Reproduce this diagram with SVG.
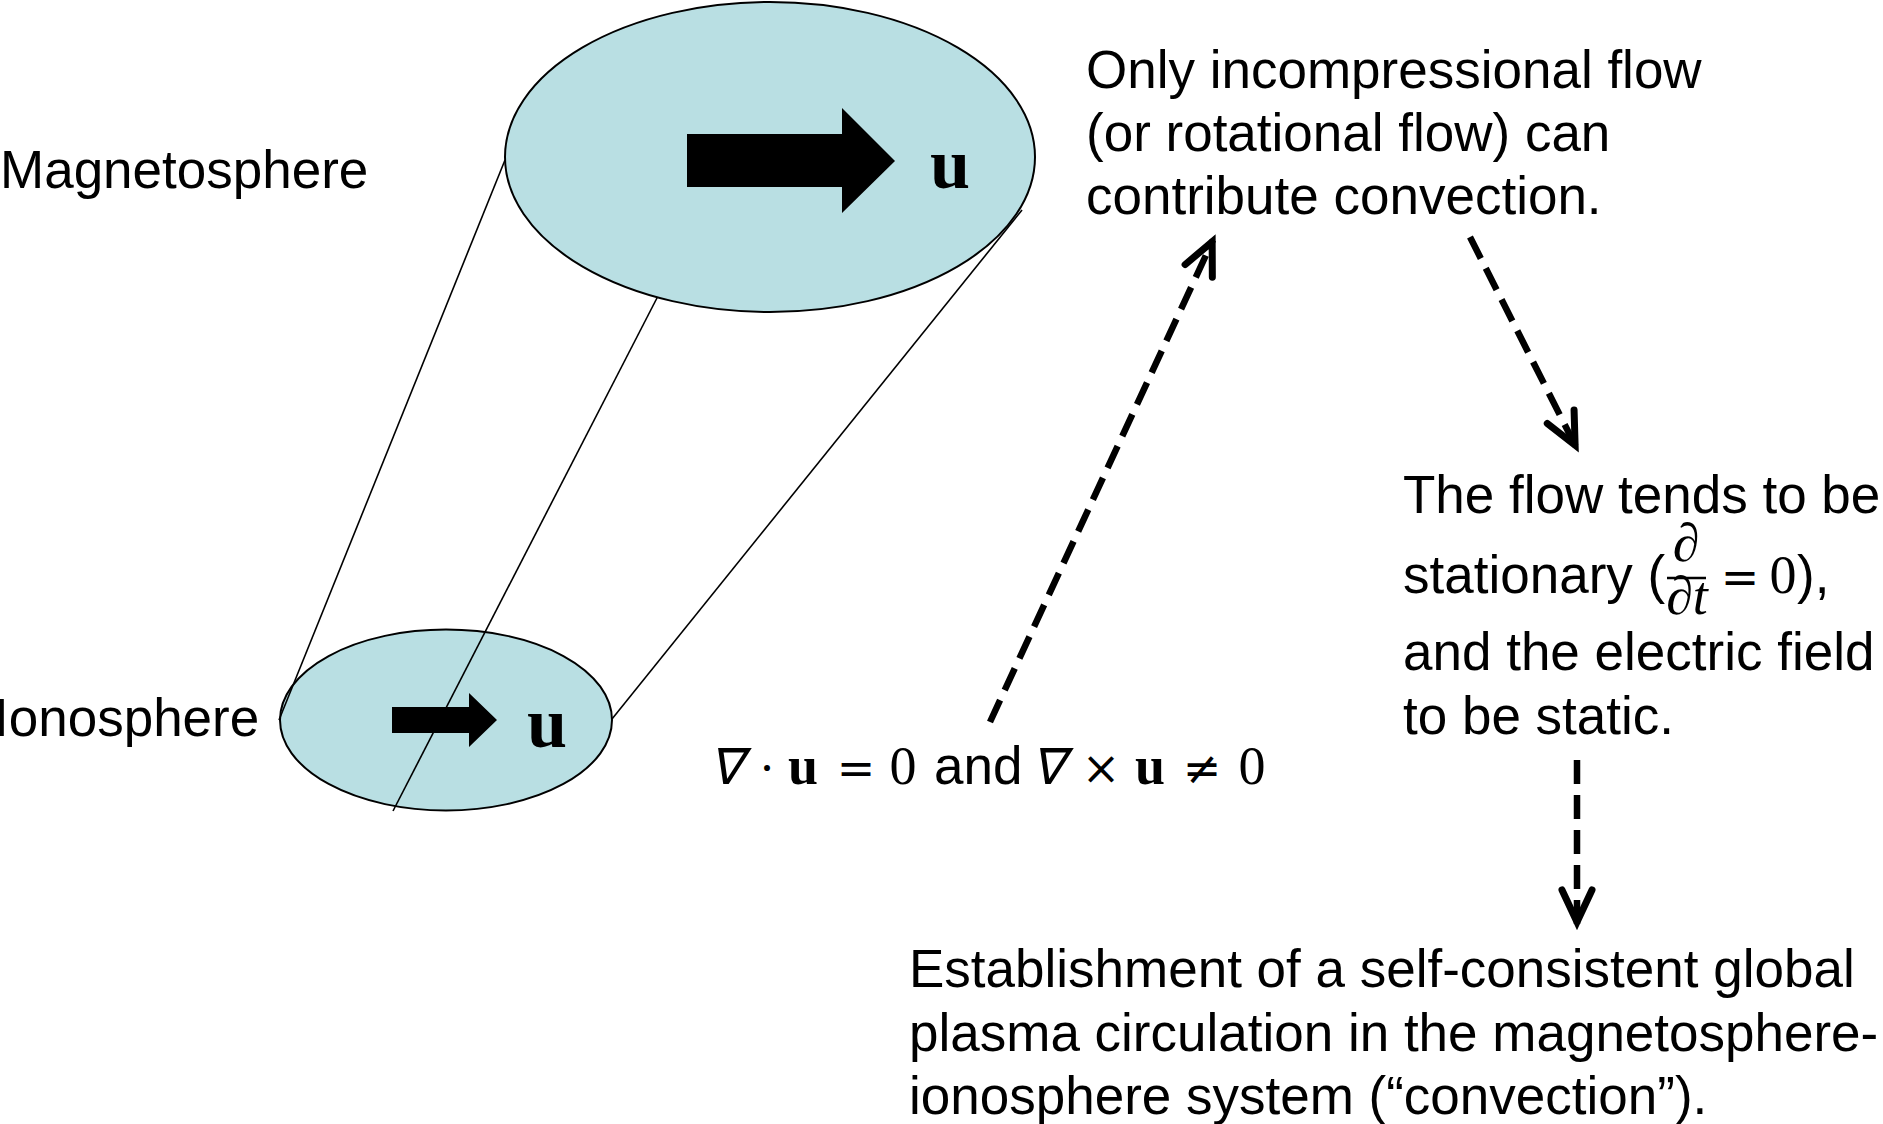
<svg xmlns="http://www.w3.org/2000/svg" width="1883" height="1124" viewBox="0 0 1883 1124">
  <defs>
    <style>
      .lbl { font-family: "Liberation Sans", Arial, sans-serif; font-size: 53px; fill: #000; }
      .mth { font-family: "Liberation Serif", "DejaVu Serif", serif; font-size: 54px; fill: #000; }
      .sym { font-family: "DejaVu Serif", "Liberation Serif", serif; font-size: 46px; fill: #000; }
      .nab { font-family: "DejaVu Sans", "DejaVu Serif", sans-serif; font-size: 50px; font-weight: normal; fill: #000; }
      .bu { font-family: "Liberation Serif", "Times New Roman", serif; font-weight: bold; font-size: 72px; fill: #000; }
      .sph { fill: #B9DFE3; stroke: #000; stroke-width: 2; }
      .edge { stroke: #000; stroke-width: 1.6; fill: none; }
      .flow { fill: #000; }
      .dash { stroke: #000; stroke-width: 6.5; fill: none; stroke-dasharray: 24 11; marker-end: url(#ah); }
    </style>
    <marker id="ah" markerUnits="userSpaceOnUse" orient="auto" refX="0" refY="0" markerWidth="80" markerHeight="80" viewBox="-50 -40 80 80" overflow="visible">
      <path d="M-34,-15 L-2,0 L-34,15" fill="none" stroke="#000" stroke-width="7" stroke-linecap="round" stroke-linejoin="miter"/>
    </marker>
  </defs>

  <g id="ionosphere">
    <ellipse class="sph" cx="446" cy="720" rx="166" ry="90.5"/>
  </g>

  <g id="connectors">
    <line class="edge" x1="505" y1="160" x2="279" y2="720"/>
    <line class="edge" x1="658" y1="296" x2="393" y2="811"/>
    <line class="edge" x1="1022" y1="210" x2="612" y2="719"/>
  </g>

  <g id="magnetosphere">
    <ellipse class="sph" cx="770" cy="157" rx="265" ry="155"/>
    <polygon class="flow" points="687,134 842,134 842,108 895,161 842,213 842,187 687,187"/>
    <text class="bu" x="930" y="188">u</text>
  </g>

  <g id="ionosphere-flow">
    <polygon class="flow" points="392,707 469,707 469,693 497,720 469,747 469,733 392,733"/>
    <text class="bu" x="527" y="747">u</text>
  </g>

  <g id="label-magnetosphere">
    <text class="lbl" x="0" y="188">Magnetosphere</text>
  </g>
  <g id="label-ionosphere">
    <text class="lbl" x="-6" y="736">Ionosphere</text>
  </g>

  <g id="node-incompressional">
    <text class="lbl" x="1086" y="88">Only incompressional flow</text>
    <text class="lbl" x="1086" y="151">(or rotational flow) can</text>
    <text class="lbl" x="1086" y="214">contribute convection.</text>
  </g>

  <g id="node-condition">
    <text class="nab" transform="translate(726,784) skewX(-14)" text-anchor="middle">∇</text>
    <text class="sym" x="767" y="784" text-anchor="middle">·</text>
    <text class="mth" x="803" y="784" text-anchor="middle" font-weight="bold">u</text>
    <text class="sym" x="856" y="784" text-anchor="middle" font-size="50">=</text>
    <text class="mth" x="903" y="784" text-anchor="middle">0</text>
    <text class="lbl" x="934" y="784">and</text>
    <text class="nab" transform="translate(1048,784) skewX(-14)" text-anchor="middle">∇</text>
    <text class="sym" x="1101" y="784" text-anchor="middle">×</text>
    <text class="mth" x="1150" y="784" text-anchor="middle" font-weight="bold">u</text>
    <text class="sym" x="1202" y="784" text-anchor="middle" font-size="50">≠</text>
    <text class="mth" x="1252" y="784" text-anchor="middle">0</text>
  </g>

  <g id="node-stationary">
    <text class="lbl" x="1403" y="513">The flow tends to be</text>
    <text class="lbl" x="1403" y="593">stationary (</text>
    <text class="mth" x="1686" y="561" text-anchor="middle" font-style="italic" font-size="34">∂</text>
    <line x1="1667" y1="578" x2="1706" y2="578" stroke="#000" stroke-width="2.5"/>
    <text class="mth" x="1687" y="614" text-anchor="middle" font-style="italic" font-size="38">∂t</text>
    <text class="sym" x="1740" y="593" text-anchor="middle" font-size="50">=</text>
    <text class="mth" x="1783" y="593" text-anchor="middle">0</text>
    <text class="lbl" x="1797" y="593">),</text>
    <text class="lbl" x="1403" y="670">and the electric field</text>
    <text class="lbl" x="1403" y="734">to be static.</text>
  </g>

  <g id="node-establishment">
    <text class="lbl" x="909" y="987">Establishment of a self-consistent global</text>
    <text class="lbl" x="909" y="1051">plasma circulation in the magnetosphere-</text>
    <text class="lbl" x="909" y="1114">ionosphere system (“convection”).</text>
  </g>

  <g id="arrows">
    <line class="dash" x1="990" y1="722" x2="1213" y2="240"/>
    <line class="dash" x1="1470" y1="237" x2="1576" y2="447"/>
    <line class="dash" x1="1577" y1="760" x2="1577" y2="924"/>
  </g>
</svg>
